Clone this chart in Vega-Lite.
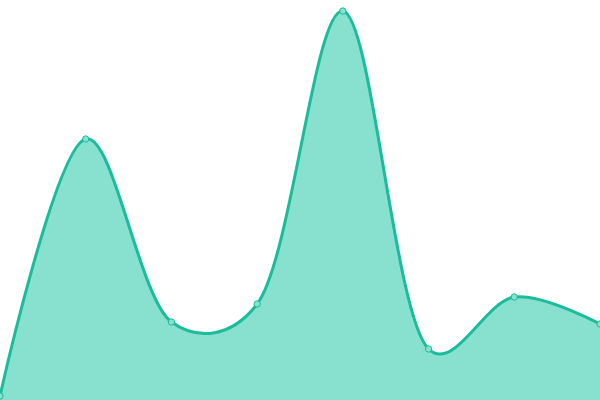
{
  "$schema": "https://vega.github.io/schema/vega-lite/v6.json",
  "width": 600,
  "height": 400,
  "padding": 0,
  "autosize": {"type": "fit", "contains": "padding"},
  "config": {"view": {"stroke": null}},
  "data": {"values": [
    {"i": 0, "v": 4},
    {"i": 1, "v": 261},
    {"i": 2, "v": 78},
    {"i": 3, "v": 96},
    {"i": 4, "v": 389},
    {"i": 5, "v": 51},
    {"i": 6, "v": 103},
    {"i": 7, "v": 76}
  ]},
  "encoding": {
    "x": {"field": "i", "type": "quantitative", "scale": {"domain": [0, 7], "nice": false, "zero": false}, "axis": null},
    "y": {"field": "v", "type": "quantitative", "scale": {"domain": [0, 400], "nice": false}, "axis": null}
  },
  "layer": [
    {"mark": {"type": "area", "interpolate": "catmull-rom", "tension": 0.25, "color": "#88e0ce", "opacity": 1, "clip": true}},
    {"mark": {"type": "line", "interpolate": "catmull-rom", "tension": 0.25, "color": "#1abc9c", "strokeWidth": 3, "clip": true}},
    {"mark": {"type": "point", "filled": true, "fill": "#88e0ce", "stroke": "#1abc9c", "strokeWidth": 1, "size": 40, "opacity": 1, "clip": true}}
  ]
}
